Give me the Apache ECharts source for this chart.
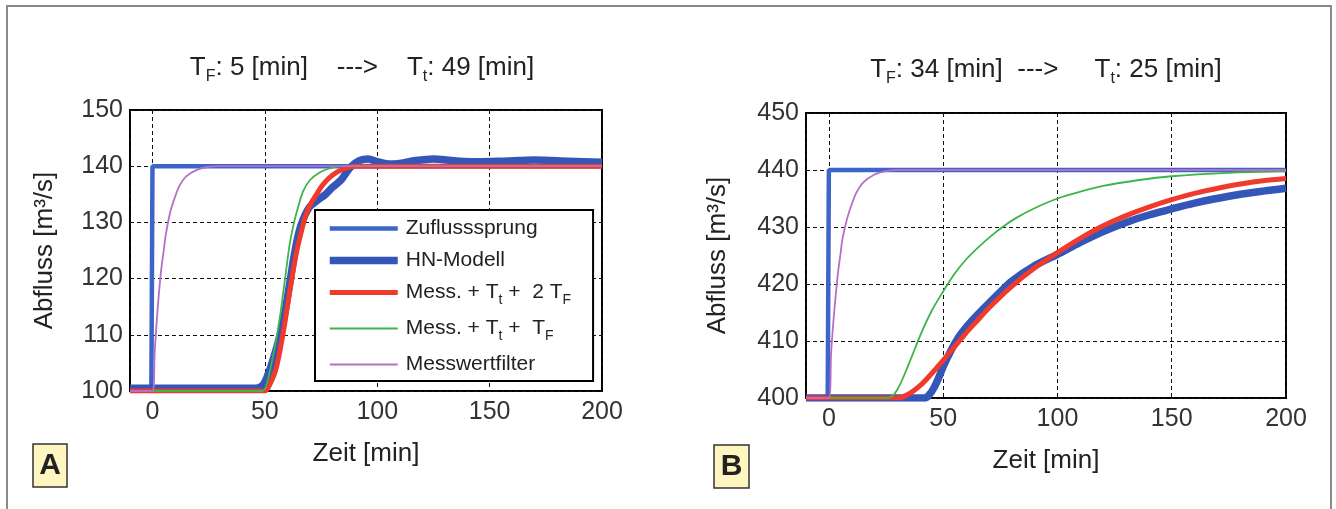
<!DOCTYPE html>
<html>
  <head>
    <meta charset="utf-8" />
    <title>Abfluss</title>
    <script src="https://cdn.jsdelivr.net/npm/echarts@6.0.0/dist/echarts.min.js"></script>
    <style>
      body { margin: 0; background: #fff; }
    </style>
  </head>
  <body>
    <div id="main" style="width: 1336px;height:509px;"></div>
    <script type="text/javascript">
      // series names (legend order)
      var names = ['Zuflusssprung', 'HN-Modell', 'Mess. + Tt + 2TF', 'Mess. + Tt + TF', 'Messwertfilter'];

      // --- panel A : [Zeit min, Abfluss m3/s]
      var zuflussA = [[-10, 100], [-0.5, 100], [0, 140], [200, 140]];
      var hnA = [[-10, 100.5], [46, 100.5], [49, 101], [51, 102.5], [54, 106], [58, 112], [61, 119],
        [63, 124], [65, 128], [67, 130.5], [70, 132.8], [73, 133.8], [77, 135], [80, 136.2],
        [84, 137.6], [88, 139.8], [92, 141], [96, 141.3], [100, 140.8], [105, 140.4], [110, 140.5],
        [117, 141], [125, 141.3], [133, 141], [142, 140.8], [155, 140.9], [170, 141.1], [185, 140.9], [200, 140.7]];
      var mess2A = [[-10, 100], [50, 100], [52, 101], [55, 104], [58, 110], [60, 115], [62, 120],
        [64, 124.5], [66, 128], [68, 131], [70, 133], [73, 135], [76, 136.8], [80, 138.4],
        [85, 139.5], [90, 140], [200, 140]];
      var mess1A = [[-10, 100], [49, 100], [51, 101.5], [53, 105], [55, 109], [57, 114], [59, 120],
        [61, 126], [63, 130], [65, 133], [67, 135.5], [70, 137.5], [74, 138.8], [78, 139.5],
        [84, 140], [200, 140]];
      var filterA = [[-10, 100], [0, 100], [1, 107], [2, 113], [3, 118], [4, 122], [5, 125],
        [6, 128], [8, 132], [10, 134.5], [12, 136.5], [15, 138.2], [20, 139.4], [25, 139.9],
        [30, 140], [200, 140]];

      // --- panel B
      var zuflussB = [[-10, 400], [-0.5, 400], [0, 440], [200, 440]];
      var hnB = [[-10, 400], [42, 400], [44, 400.6], [46, 401.8], [48, 403.5], [50, 405.5],
        [53, 408], [57, 410.8], [62, 413.3], [68, 415.8], [74, 418.2], [80, 420.5], [90, 423.2],
        [100, 425.2], [110, 427.3], [120, 429.2], [130, 430.8], [140, 432.1], [150, 433.2],
        [160, 434.2], [175, 435.4], [190, 436.3], [200, 436.8]];
      var mess2B = [[-10, 400], [30, 400], [35, 400.7], [40, 402.2], [45, 404.3], [50, 406.6],
        [55, 409], [60, 411.4], [65, 413.6], [70, 415.8], [80, 419.6], [90, 422.8], [100, 425.5],
        [110, 428], [120, 430.2], [130, 432], [140, 433.5], [150, 434.8], [160, 435.9],
        [175, 437.2], [190, 438.1], [200, 438.5]];
      var mess1B = [[-10, 400], [26, 400], [30, 401.5], [35, 406], [40, 411], [45, 415.3],
        [50, 418.7], [55, 421.8], [60, 424.3], [65, 426.3], [70, 428.1], [76, 430], [82, 431.6],
        [90, 433.3], [100, 435], [110, 436.2], [120, 437.2], [135, 438.2], [150, 438.9],
        [175, 439.5], [200, 439.8]];
      var filterB = [[-10, 400], [0, 400], [1, 408], [2, 413.5], [3, 418], [4, 422], [5, 425],
        [6, 428], [8, 431.5], [10, 434], [12, 436], [15, 437.8], [20, 439.2], [25, 439.8],
        [30, 440], [200, 440]];

      var titleA = '{n|T}{s|F}{n|: 5 [min]    --->    T}{s|t}{n|: 49 [min]}';
      var titleB = '{n|T}{s|F}{n|: 34 [min]  --->     T}{s|t}{n|: 25 [min]}';

      var colors = ['#3d64c8', '#3456b8', '#ef3a2c', '#3db548', '#b56fc8'];
      var widths = [4.5, 7.5, 5, 1.8, 1.8];

      var chartDom = document.getElementById('main');
      var myChart = echarts.init(chartDom);
      var option;

      var font = 'Liberation Sans, Arial, sans-serif';
      var titleRich = {
        n: { fontSize: 26, color: '#222', fontFamily: font, fontWeight: 'normal' },
        s: { fontSize: 16, color: '#222', fontFamily: font, fontWeight: 'normal', padding: [18, 0, 0, 0] }
      };

      function xAxis(idx) {
        return {
          type: 'value', gridIndex: idx, min: -10, max: 200, minInterval: 50, maxInterval: 50,
          name: 'Zeit [min]', nameLocation: 'middle', nameGap: 50,
          nameTextStyle: { fontSize: 26, color: '#222', fontFamily: font },
          axisLine: { show: false },
          axisTick: { show: false },
          axisLabel: { fontSize: 25, color: '#333', fontFamily: font, margin: 9, showMinLabel: false },
          splitLine: { show: true, lineStyle: { color: '#111', type: [4, 3], width: 1 } }
        };
      }
      function yAxis(idx, lo, gap) {
        return {
          type: 'value', gridIndex: idx, min: lo, max: lo + 50, interval: 10,
          name: 'Abfluss [m³/s]', nameLocation: 'middle', nameGap: gap,
          nameTextStyle: { fontSize: 26, color: '#222', fontFamily: font },
          axisLine: { show: false },
          axisTick: { show: false },
          axisLabel: { fontSize: 25, color: '#333', fontFamily: font, margin: 7 },
          splitLine: { show: true, lineStyle: { color: '#111', type: [4, 3], width: 1 } }
        };
      }

      function line(i, idx, data) {
        return {
          name: names[i], type: 'line', xAxisIndex: idx, yAxisIndex: idx,
          data: data, symbol: 'none', showSymbol: false,
          smooth: i === 0 ? false : 0.3,
          color: colors[i],
          lineStyle: { color: colors[i], width: widths[i] },
          clip: true, animation: false
        };
      }

      var legendText = {
        'Zuflusssprung': '{n|Zuflusssprung}',
        'HN-Modell': '{n|HN-Modell}',
        'Mess. + Tt + 2TF': '{n|Mess. + T}{s|t}{n| +  2 T}{s|F}',
        'Mess. + Tt + TF': '{n|Mess. + T}{s|t}{n| +  T}{s|F}',
        'Messwertfilter': '{n|Messwertfilter}'
      };

      option = {
        animation: false,
        backgroundColor: '#fff',
        title: [
          { text: titleA, left: 357, top: 46, textAlign: 'center', textStyle: { fontWeight: 'normal', rich: titleRich } },
          { text: titleB, left: 1041, top: 48, textAlign: 'center', textStyle: { fontWeight: 'normal', rich: titleRich } }
        ],
        grid: [
          { left: 130, top: 110, width: 472, height: 281, show: true, borderColor: '#000', borderWidth: 2, backgroundColor: 'transparent' },
          { left: 806, top: 113, width: 480, height: 285, show: true, borderColor: '#000', borderWidth: 2, backgroundColor: 'transparent' }
        ],
        xAxis: [xAxis(0), xAxis(1)],
        yAxis: [yAxis(0, 100, 72), yAxis(1, 400, 75)],
        legend: {
          data: names, orient: 'vertical', left: 315, top: 210,
          backgroundColor: '#fff', borderColor: '#000', borderWidth: 2,
          padding: [8, 22, 6, 11], itemGap: 11, itemWidth: 68, itemHeight: 20,
          selectedMode: false,
          itemStyle: { opacity: 0 },
          lineStyle: { width: 'inherit' },
          formatter: function (n) { return legendText[n]; },
          textStyle: {
            padding: [0, 0, 0, 3],
            rich: {
              n: { fontSize: 21, color: '#222', fontFamily: font },
              s: { fontSize: 14, color: '#222', fontFamily: font, padding: [15, 0, 0, 0] }
            }
          }
        },
        graphic: [
          { type: 'rect', shape: { x: 7, y: 6, width: 1324, height: 520 }, style: { fill: 'none', stroke: '#8a8a8a', lineWidth: 2 }, silent: true },
          { type: 'rect', shape: { x: 33, y: 444, width: 34, height: 43 }, style: { fill: '#fdf6c0', stroke: '#333', lineWidth: 1.5 } },
          { type: 'text', x: 50, y: 466, style: { text: 'A', fontSize: 30, fontWeight: 'bold', fill: '#222', align: 'center', verticalAlign: 'middle', fontFamily: font } },
          { type: 'rect', shape: { x: 714, y: 445, width: 35, height: 43 }, style: { fill: '#fdf6c0', stroke: '#333', lineWidth: 1.5 } },
          { type: 'text', x: 731.5, y: 467, style: { text: 'B', fontSize: 30, fontWeight: 'bold', fill: '#222', align: 'center', verticalAlign: 'middle', fontFamily: font } }
        ],
        series: [
          line(0, 0, zuflussA), line(1, 0, hnA), line(2, 0, mess2A), line(3, 0, mess1A), line(4, 0, filterA),
          line(0, 1, zuflussB), line(1, 1, hnB), line(2, 1, mess2B), line(3, 1, mess1B), line(4, 1, filterB)
        ]
      };

      option && myChart.setOption(option);
    </script>
  </body>
</html>
